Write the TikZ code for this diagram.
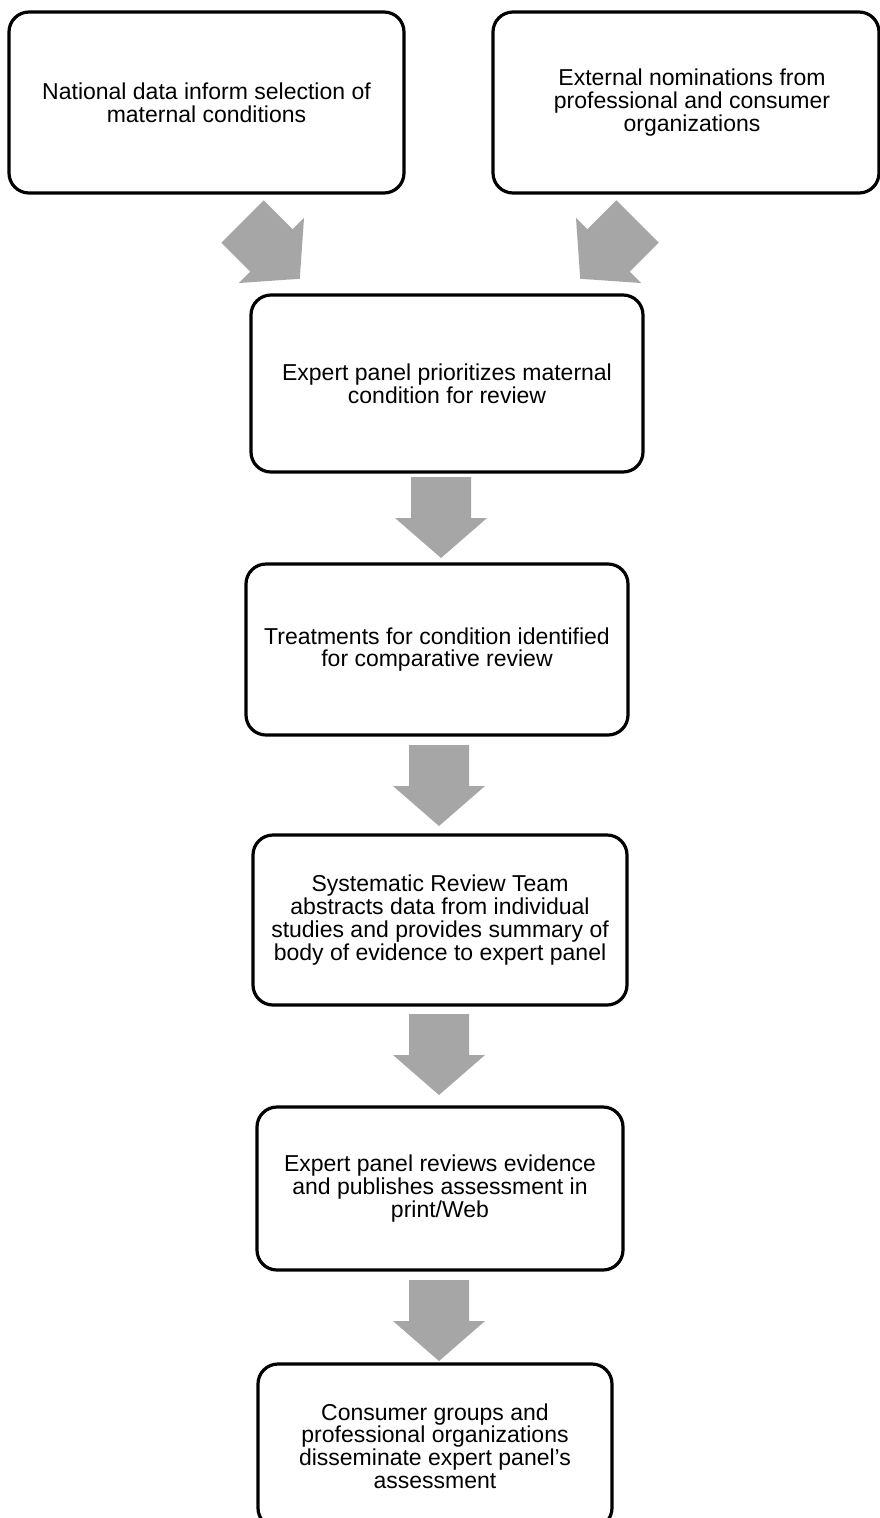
\documentclass[tikz,border=0pt]{standalone}
\usepackage{fontspec}
\setmainfont{Liberation Sans}
\definecolor{arrowgray}{RGB}{166,166,166}
\tikzset{
  box/.style={draw=black, line width=3.2pt, rounded corners=20pt, fill=white,
    align=center, inner sep=0pt, font=\fontsize{23}{22.8}\selectfont},
  blockarrow/.pic={\fill[arrowgray] (-30,0) -- (30,0) -- (30,41) -- (46,41) -- (0,81) -- (-46,41) -- (-30,41) -- cycle;}
}
\begin{document}
\begin{tikzpicture}[x=1pt,y=-1pt]
\useasboundingbox[fill=white] (0,0) rectangle (880,1518);
\node[box, minimum width=395pt, minimum height=181pt] (b1) at (206.5,102.5)
  {National data inform selection of\\maternal conditions};
\node[box, minimum width=386pt, minimum height=181pt] (b2) at (686,102.5)
  {\hspace*{12pt}External nominations from\\\hspace*{12pt}professional and consumer\\\hspace*{12pt}organizations};
\node[box, minimum width=392pt, minimum height=177pt] (b3) at (447,383.5)
  {Expert panel prioritizes maternal\\condition for review};
\node[box, minimum width=382pt, minimum height=171pt] (b4) at (437,649.5)
  {Treatments for condition identified\\for comparative review};
\node[box, minimum width=374pt, minimum height=170pt] (b5) at (440,920)
  {Systematic Review Team\\abstracts data from individual\\studies and provides summary of\\body of evidence to expert panel};
\node[box, minimum width=366pt, minimum height=163pt] (b6) at (440,1188.5)
  {Expert panel reviews evidence\\and publishes assessment in\\print/Web};
\node[box, minimum width=354pt, minimum height=164pt] (b7) at (435,1446)
  {Consumer groups and\\professional organizations\\disseminate expert panel's\\assessment};
\pic[rotate=45] at (242.5,221.5) {blockarrow};
\pic[rotate=-45] at (637.5,221.5) {blockarrow};
\pic at (441,477) {blockarrow};
\pic at (439,745) {blockarrow};
\pic at (439,1014) {blockarrow};
\pic at (439,1280) {blockarrow};
\end{tikzpicture}
\end{document}
